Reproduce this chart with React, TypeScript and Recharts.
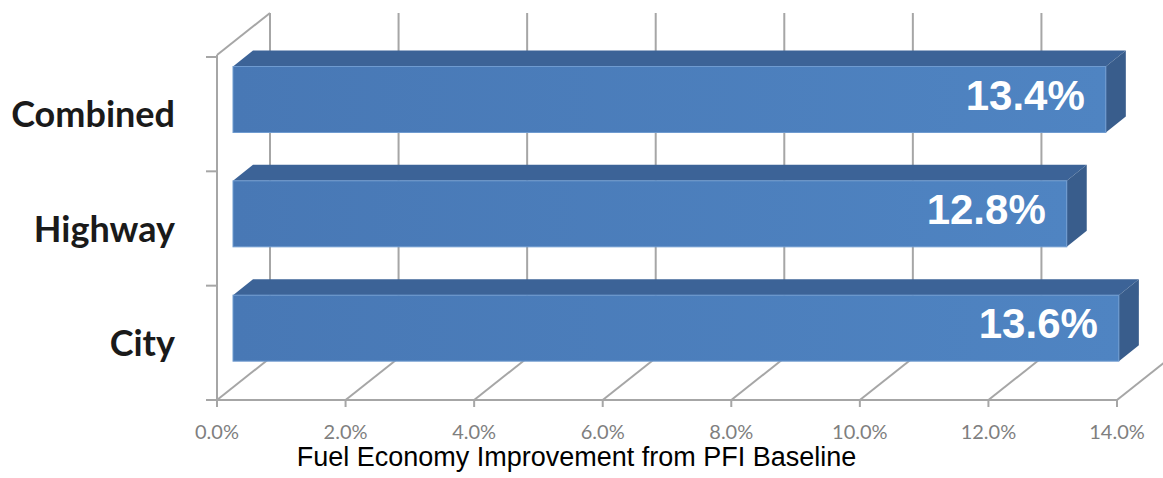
import React from 'react';
import { BarChart, Bar, XAxis, YAxis, Customized, LabelList, CartesianGrid } from 'recharts';

const categories = ['Combined', 'Highway', 'City'];
const improvement = [13.4, 12.8, 13.6];
const xTicks = [0, 2, 4, 6, 8, 10, 12, 14];
const xTitle = 'Fuel Economy Improvement from PFI Baseline';

const data = categories.map((name, i) => ({ name, value: improvement[i] }));

// plot box (front plane)
const W = 1163;
const H = 478;
const M_TOP = 57;
const M_RIGHT = 46;
const X_AXIS_H = 78;
const Y_AXIS_W = 217;
const PLOT_BOTTOM = H - X_AXIS_H;

// 3D look: back wall sits up-right of the front plane, bars live in between
const WALL_DX = 53;
const WALL_TOP_DY = -44;
const FLOOR_DY = -42;
const BAR_DX = 16;
const BAR_DY = -14.5;
const DEPTH_DX = 20;
const DEPTH_DY = -16;
const BAR_STRETCH = 65.1 / 64.25;
const GRID = '#a6a6a6';

const TOP = '#3c6397';
const SIDE = '#395d8c';

const Bar3D = (props: any) => {
  const { x, y, width, height } = props;
  const x0 = x + BAR_DX;
  const y0 = y + BAR_DY;
  const w = width * BAR_STRETCH;
  const x1 = x0 + w;
  const y1 = y0 + height;
  return (
    <g>
      <polygon
        points={`${x0},${y0} ${x0 + DEPTH_DX},${y0 + DEPTH_DY} ${x1 + DEPTH_DX},${y0 + DEPTH_DY} ${x1},${y0}`}
        fill={TOP}
      />
      <polygon
        points={`${x1},${y0} ${x1 + DEPTH_DX},${y0 + DEPTH_DY} ${x1 + DEPTH_DX},${y1 + DEPTH_DY} ${x1},${y1}`}
        fill={SIDE}
      />
      <rect x={x0} y={y0} width={w} height={height} fill="url(#frontGrad)" stroke="#6f9bd0" strokeWidth={1} />
    </g>
  );
};

const ValueLabel = (props: any) => {
  const { x, y, width, height, value } = props;
  const right = x + BAR_DX + width * BAR_STRETCH - 21;
  const cy = y + BAR_DY + height / 2;
  return (
    <text
      x={right}
      y={cy + 10}
      textAnchor="end"
      fill="#ffffff"
      fontFamily="'Liberation Sans', Arial, sans-serif"
      fontWeight="bold"
      fontSize={42}
    >
      {`${value.toFixed(1)}%`}
    </text>
  );
};

const XTick = (props: any) => {
  const { x, payload } = props;
  return (
    <g>
      <line x1={x} y1={PLOT_BOTTOM} x2={x} y2={PLOT_BOTTOM + 7} stroke={GRID} strokeWidth={2} />
      <text
        x={x}
        y={PLOT_BOTTOM + 39}
        textAnchor="middle"
        fill="#7f7f7f"
        fontFamily="Lato, 'Open Sans', sans-serif"
        fontSize={20}
      >
        {`${payload.value.toFixed(1)}%`}
      </text>
    </g>
  );
};

const YTick = (props: any) => {
  const { x, y, payload } = props;
  return (
    <text
      x={x - 34}
      y={y + 13}
      textAnchor="end"
      fill="#1a1a1a"
      fontFamily="Lato, 'Open Sans', sans-serif"
      fontWeight="bold"
      fontSize={36}
    >
      {payload.value}
    </text>
  );
};

// each vertical grid line becomes a back-wall line plus its floor diagonal
const WallLine = (p: any) => {
  const { x1, y1, y2 } = p;
  return (
    <g>
      <line x1={x1 + WALL_DX} y1={y1 + WALL_TOP_DY} x2={x1 + WALL_DX} y2={y2 + FLOOR_DY} stroke={GRID} strokeWidth={2} />
      <line x1={x1} y1={y2} x2={x1 + WALL_DX} y2={y2 + FLOOR_DY} stroke={GRID} strokeWidth={2} />
    </g>
  );
};

// left wall edge, top corner and category boundary ticks
const Frame = () => {
  const left = Y_AXIS_W;
  const bandH = (PLOT_BOTTOM - M_TOP) / categories.length;
  return (
    <g>
      <line x1={left} y1={M_TOP - 2} x2={left + WALL_DX} y2={M_TOP + WALL_TOP_DY} stroke={GRID} strokeWidth={2} />
      <line x1={left} y1={M_TOP - 2} x2={left} y2={PLOT_BOTTOM} stroke={GRID} strokeWidth={2} />
      {Array.from({ length: categories.length + 1 }).map((_, i) => (
        <line key={i} x1={left - 11} y1={M_TOP + i * bandH} x2={left} y2={M_TOP + i * bandH} stroke={GRID} strokeWidth={2} />
      ))}
    </g>
  );
};

export default function App() {
  return (
    <div style={{ position: 'absolute', left: 0, top: 0, width: W, height: H, background: '#fff' }}>
      <BarChart
        width={W}
        height={H}
        data={data}
        layout="vertical"
        margin={{ top: M_TOP, right: M_RIGHT, bottom: 0, left: 0 }}
        barSize={66}
      >
        <defs>
          <linearGradient id="frontGrad" x1="0" y1="0" x2="1" y2="0">
            <stop offset="0%" stopColor="#4878b5" />
            <stop offset="100%" stopColor="#4f84c2" />
          </linearGradient>
        </defs>
        <CartesianGrid horizontal={false} vertical={(p: any) => <WallLine key={p.key ?? p.x1} {...p} />} />
        <Customized component={Frame} />
        <XAxis
          type="number"
          domain={[0, 14]}
          ticks={xTicks}
          height={X_AXIS_H}
          axisLine={{ stroke: GRID, strokeWidth: 2 }}
          tickLine={false}
          tick={<XTick />}
          interval={0}
        />
        <YAxis
          type="category"
          dataKey="name"
          width={Y_AXIS_W}
          axisLine={false}
          tickLine={false}
          tick={<YTick />}
        />
        <Bar dataKey="value" shape={<Bar3D />} isAnimationActive={false}>
          <LabelList dataKey="value" content={<ValueLabel />} />
        </Bar>
      </BarChart>
      <div
        style={{
          position: 'absolute',
          left: 0,
          width: W,
          top: 443,
          textAlign: 'center',
          fontFamily: "'Liberation Sans', Arial, sans-serif",
          fontSize: 27,
          color: '#000',
          lineHeight: '28px',
        }}
      >
        <span style={{ position: 'relative', left: -5 }}>{xTitle}</span>
      </div>
    </div>
  );
}
